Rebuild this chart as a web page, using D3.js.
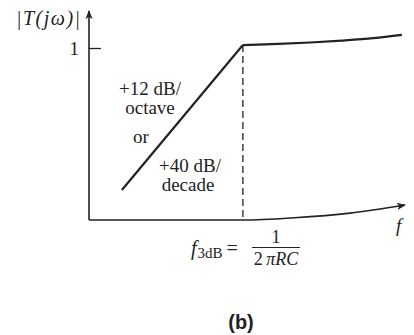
<!DOCTYPE html>
<html><head><meta charset="utf-8">
<script src="https://cdn.jsdelivr.net/npm/d3@7"></script>
<style>
html,body{margin:0;padding:0;background:#fff;}
svg{display:block;}
text{font-family:"Liberation Serif","Times New Roman",serif;fill:#222;}
</style></head>
<body>
<script>
// Normalized frequency (0..1 along the f axis) and magnitude |T(jw)|
const responseFreq = [0.104, 0.487, 0.60, 0.70, 0.80, 0.90, 0.99];
const responseMag  = [0.174, 1.017, 1.024, 1.032, 1.043, 1.057, 1.076];
const axisFreq = [0, 0.487, 0.65, 0.826, 1.0];
const axisMag  = [0, 0, 0.013, 0.04, 0.087];
const cornerFreq = 0.487;
const yTickValues = [1];
const yTickLabels = ["1"];
const yLabel = "|T(jω)|";
const xLabel = "f";
const slopeLabels = ["+12 dB/", "octave", "or", "+40 dB/", "decade"];
const caption = "(b)";

const W = 414, H = 335;
const svg = d3.select("body").append("svg").attr("width", W).attr("height", H);

const x = d3.scaleLinear().domain([0, 1]).range([89, 405]);
const y = d3.scaleLinear().domain([0, 1]).range([220, 48]);
const ink = "#222";

const defs = svg.append("defs");
defs.append("marker").attr("id", "arr").attr("viewBox", "0 0 10 10")
  .attr("refX", 9).attr("refY", 5).attr("markerWidth", 9).attr("markerHeight", 9)
  .attr("markerUnits", "userSpaceOnUse").attr("orient", "auto")
  .append("path").attr("d", "M0,1 L10,5 L0,9 L2.5,5 Z").attr("fill", ink);

// y axis with tick "1"
const yAxis = d3.axisLeft(y).tickValues(yTickValues).tickFormat((d, i) => yTickLabels[i])
  .tickSizeInner(-12).tickSizeOuter(0).tickPadding(10);
const gy = svg.append("g").attr("transform", `translate(${x(0)},0)`).call(yAxis);
gy.select(".domain").remove();
gy.selectAll(".tick line").attr("stroke", ink).attr("stroke-width", 1.3);
gy.selectAll(".tick text").style("font-family", '"Liberation Serif",serif').style("font-size", "19px").style("fill", ink);
svg.append("line").attr("x1", x(0)).attr("x2", x(0)).attr("y1", y(0)).attr("y2", y(1.215))
  .attr("stroke", ink).attr("stroke-width", 1.6).attr("marker-end", "url(#arr)");

// x axis (curved)
const axisPts = axisFreq.map((f, i) => [x(f), y(axisMag[i])]);
svg.append("path").attr("d", d3.line().curve(d3.curveMonotoneX)(axisPts))
  .attr("fill", "none").attr("stroke", ink).attr("stroke-width", 1.6).attr("marker-end", "url(#arr)");

// dashed corner line
svg.append("line").attr("x1", x(cornerFreq)).attr("x2", x(cornerFreq))
  .attr("y1", y(responseMag[1])).attr("y2", y(0))
  .attr("stroke", ink).attr("stroke-width", 1.3).attr("stroke-dasharray", "7,4");

// response
const respPts = responseFreq.map((f, i) => [x(f), y(responseMag[i])]);
svg.append("path").attr("d", d3.line()(respPts.slice(0, 2)))
  .attr("fill", "none").attr("stroke", ink).attr("stroke-width", 2.2);
svg.append("path").attr("d", d3.line().curve(d3.curveMonotoneX)(respPts.slice(1)))
  .attr("fill", "none").attr("stroke", ink).attr("stroke-width", 2.2);

// labels
svg.append("text").attr("x", 16).attr("y", 25).attr("font-size", 20).attr("font-style", "italic")
  .attr("letter-spacing", 1.5).text(yLabel);
svg.append("text").attr("x", 396).attr("y", 232).attr("font-size", 19).attr("font-style", "italic").text(xLabel);

const slopePos = [[150, 95], [150, 114], [141, 143], [190, 172], [188, 191]];
slopeLabels.forEach((t, i) => {
  svg.append("text").attr("x", slopePos[i][0]).attr("y", slopePos[i][1])
    .attr("text-anchor", "middle").attr("font-size", 19).text(t);
});

// f3dB = 1/(2πRC)
const fl = svg.append("text").attr("x", 191).attr("y", 255).attr("font-size", 20);
fl.append("tspan").attr("font-style", "italic").text("f");
fl.append("tspan").attr("font-size", 15).attr("dy", 3).attr("dx", 1).text("3dB");
fl.append("tspan").attr("dy", -3).attr("dx", 4).text("=");
svg.append("text").attr("x", 276).attr("y", 243).attr("text-anchor", "middle").attr("font-size", 18).text("1");
svg.append("line").attr("x1", 252).attr("x2", 300).attr("y1", 247.5).attr("y2", 247.5).attr("stroke", ink).attr("stroke-width", 1);
const den = svg.append("text").attr("x", 276).attr("y", 265).attr("text-anchor", "middle").attr("font-size", 18);
den.append("tspan").text("2\u2009");
den.append("tspan").attr("font-style", "italic").text("πRC");

svg.append("text").attr("x", 241).attr("y", 329).attr("text-anchor", "middle")
  .style("font-family", '"Liberation Sans",Arial,sans-serif').style("font-weight", "bold")
  .style("font-size", "20px").text(caption);
</script>
</body></html>
